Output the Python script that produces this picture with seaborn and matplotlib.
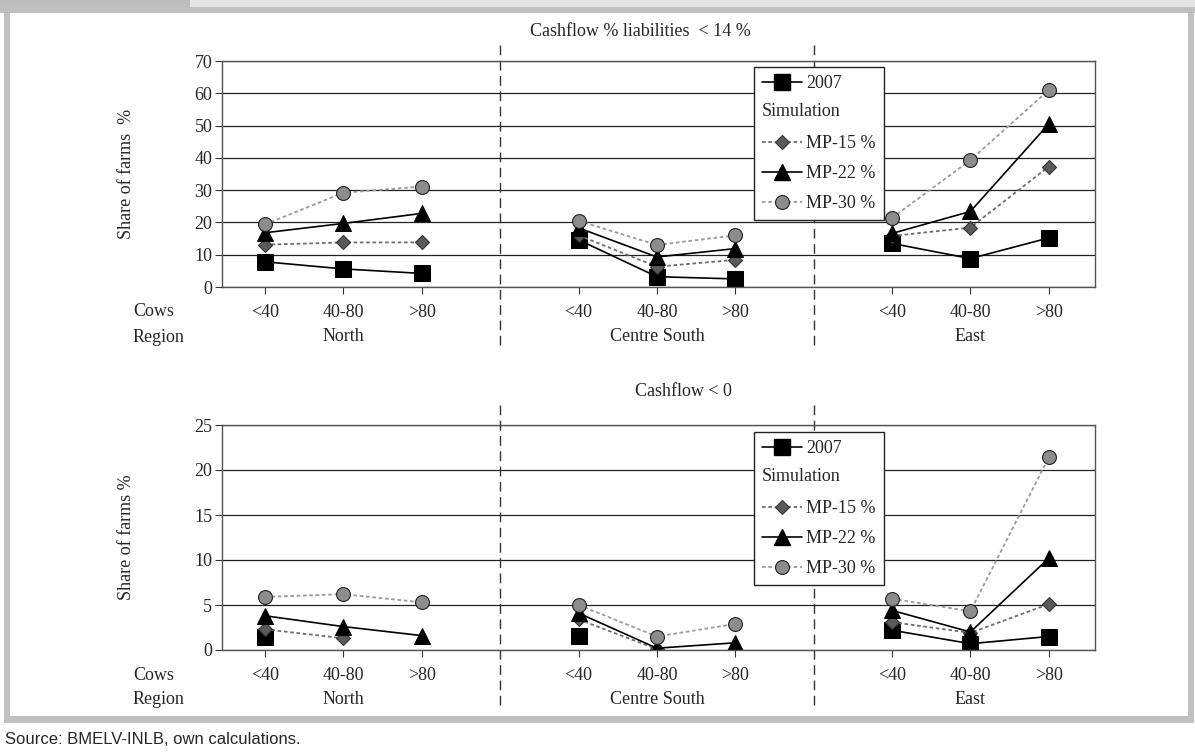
import numpy as np
import pandas as pd
import seaborn as sns
import matplotlib.pyplot as plt
import matplotlib.text as mtext
import matplotlib.transforms as mtransforms
from matplotlib.lines import Line2D
from matplotlib.patches import Rectangle
from matplotlib.legend_handler import HandlerBase

sns.set_style("ticks")
plt.rcParams['font.family'] = ['Liberation Serif', 'DejaVu Serif']
plt.rcParams['font.size'] = 13

# data
regions = ["North", "Centre South", "East"]
cows = ["<40", "40-80", ">80"]
series = ["2007", "MP-15 %", "MP-22 %", "MP-30 %"]

# Cashflow % liabilities < 14 %
liab_2007 = [7.8, 5.6, 4.2, 14.6, 3.2, 2.5, 13.5, 8.8, 15.2]
liab_mp15 = [13.1, 13.8, 13.8, 16.0, 6.3, 8.4, 15.8, 18.4, 37.3]
liab_mp22 = [16.8, 19.7, 22.8, 18.3, 9.3, 11.9, 16.6, 23.4, 50.5]
liab_mp30 = [19.4, 29.2, 31.1, 20.5, 13.0, 16.0, 21.4, 39.3, 61.0]

# Cashflow < 0
neg_2007 = [1.5, np.nan, np.nan, 1.6, np.nan, np.nan, 2.2, 0.7, 1.5]
neg_mp15 = [2.3, 1.3, np.nan, 3.4, 0.1, np.nan, 3.1, 1.9, 5.1]
neg_mp22 = [3.8, 2.6, 1.6, 4.1, 0.2, 0.8, 4.4, 2.0, 10.2]
neg_mp30 = [5.9, 6.2, 5.3, 5.0, 1.5, 2.9, 5.7, 4.3, 21.4]

STYLES = {
    "2007": dict(color="black", marker="s", markersize=11.5, markerfacecolor="black",
                 markeredgecolor="black", linestyle="-", linewidth=1.2),
    "MP-15 %": dict(color="#6e6e6e", marker="D", markersize=7.5, markerfacecolor="#5a5a5a",
                    markeredgecolor="#333333", markeredgewidth=0.8, linestyle=(0, (2, 1.5)), linewidth=1.3),
    "MP-22 %": dict(color="black", marker="^", markersize=11.5, markerfacecolor="black",
                    markeredgecolor="black", linestyle="-", linewidth=1.2),
    "MP-30 %": dict(color="#9a9a9a", marker="o", markersize=10, markerfacecolor="#8c8c8c",
                    markeredgecolor="#222222", markeredgewidth=0.8, linestyle=(0, (2, 1.5)), linewidth=1.3),
}

W, H = 1195, 756


def fx(px):
    return px / W


def fy(py):
    return 1 - py / H


def long_frame(values):
    rows = []
    for name, vals in zip(series, values):
        for i, v in enumerate(vals):
            r, c = divmod(i, 3)
            rows.append(dict(series=name, region=regions[r], cows=cows[c], pos=r * 4 + c, value=v))
    return pd.DataFrame(rows)


class HeaderHandler(HandlerBase):
    def create_artists(self, legend, orig_handle, xdescent, ydescent, width, height, fontsize, trans):
        t = mtext.Text(-xdescent, -ydescent + height / 2, orig_handle, fontsize=fontsize,
                       ha="left", va="center", transform=trans)
        return [t]


def box(fig, x0, y0, x1, y1, color):
    fig.add_artist(Rectangle((fx(x0), fy(y1)), fx(x1) - fx(x0), fy(y0) - fy(y1),
                             transform=fig.transFigure, facecolor=color, edgecolor="none", zorder=0))


def draw_panel(ax, values, ymax, ystep, ylabel, legend_top, sep_lims):
    df = long_frame(values)
    for name in series:
        sub = df[df["series"] == name]
        sns.lineplot(data=sub, x="pos", y="value", units="region", estimator=None,
                     legend=False, ax=ax, **STYLES[name])

    ax.set_xlim(-0.55, 10.59)
    ax.set_ylim(0, ymax)
    ax.set_yticks(np.arange(0, ymax + 1, ystep))
    ax.set_xticks(sorted(df["pos"].unique()))
    ax.set_xticklabels(cows * 3)
    ax.set_xlabel("")
    ax.set_ylabel(ylabel)
    ax.yaxis.set_label_coords(-0.10, 0.5)
    ax.yaxis.grid(True, color="#222222", linewidth=0.9)
    ax.set_axisbelow(True)
    for s in ax.spines.values():
        s.set_visible(True)
        s.set_color("#555555")
        s.set_linewidth(1.0)
    ax.tick_params(axis="x", direction="out", length=5, width=0.8, color="#333333", pad=7, labelsize=13)
    ax.tick_params(axis="y", direction="out", length=5, width=0.8, color="#333333", pad=2, labelsize=13)

    for p in [3, 7]:
        ax.axvline(p, ymin=sep_lims[0], ymax=sep_lims[1], clip_on=False, color="#333333",
                   linewidth=1.0, dashes=(7, 4))

    trans = mtransforms.blended_transform_factory(ax.transData, ax.transAxes)
    for r, name in enumerate(regions):
        ax.text(r * 4 + 1, -0.221, name, transform=trans, ha="center", va="center")

    handles = [Line2D([], [], **STYLES["2007"]), "Simulation"] + \
              [Line2D([], [], **STYLES[n]) for n in series[1:]]
    labels = ["2007", ""] + series[1:]
    ax.legend(handles, labels, handler_map={str: HeaderHandler()}, loc="upper left",
              bbox_to_anchor=(0.609, legend_top), borderaxespad=0, frameon=True, fancybox=False,
              edgecolor="#222222", framealpha=1, handlelength=2.2, handletextpad=0.25,
              labelspacing=0.72, borderpad=0.45, fontsize=13)


fig = plt.figure(figsize=(W / 100, H / 100), dpi=100)

# page frame
box(fig, 0, 0, 190, 7, "#bdbdbd")
box(fig, 190, 0, W, 7, "#e5e5e5")
box(fig, 0, 7, W, 13, "#c0c0c0")
box(fig, 4, 7, 10, 723, "#c0c0c0")
box(fig, 1188, 7, 1194, 723, "#c0c0c0")
box(fig, 4, 716, 1194, 723, "#c0c0c0")

ax1 = fig.add_axes([fx(222), fy(287), fx(1095) - fx(222), fy(61) - fy(287)])
ax2 = fig.add_axes([fx(222), fy(650), fx(1095) - fx(222), fy(425) - fy(650)])

draw_panel(ax1, [liab_2007, liab_mp15, liab_mp22, liab_mp30], 70, 10,
           "Share of farms  %", 0.973, (-0.257, 1.07))
draw_panel(ax2, [neg_2007, neg_mp15, neg_mp22, neg_mp30], 25, 5,
           "Share of farms %", 0.969, (-0.244, 1.098))

fig.text(fx(640), fy(32), "Cashflow % liabilities  < 14 %", ha="center", va="center")
fig.text(fx(683), fy(392), "Cashflow < 0", ha="center", va="center")

for yc, yr in [(312, 337), (675, 700)]:
    fig.text(fx(133), fy(yc), "Cows", ha="left", va="center")
    fig.text(fx(133), fy(yr), "Region", ha="left", va="center")

fig.text(fx(5), fy(740), "Source: BMELV-INLB, own calculations.", ha="left", va="center",
         family=["Liberation Sans Narrow", "Liberation Sans", "DejaVu Sans"], fontsize=12)

fig.savefig("out.png", dpi=100)
